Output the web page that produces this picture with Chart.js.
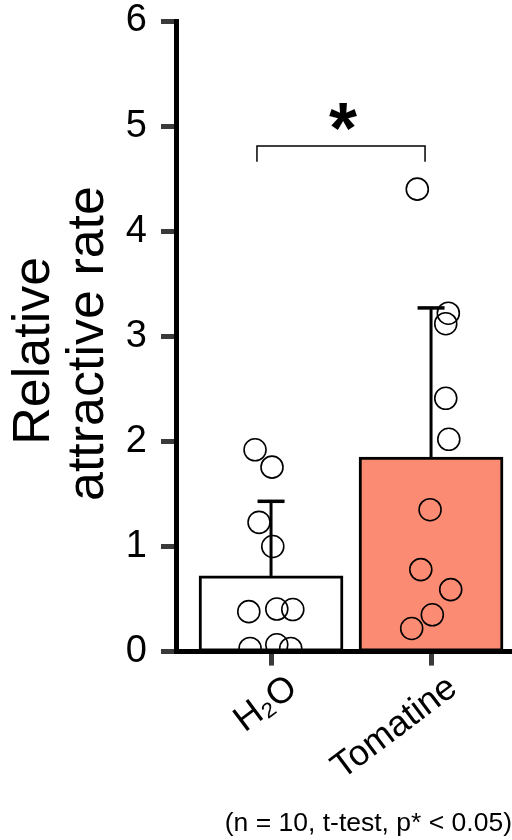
<!DOCTYPE html>
<html>
<head>
<meta charset="utf-8">
<script src="https://cdn.jsdelivr.net/npm/chart.js@4.4.1/dist/chart.umd.min.js"></script>
<style>
  html, body { margin: 0; padding: 0; background: #fff; }
  canvas { display: block; }
</style>
</head>
<body>
<canvas id="barchart" width="512" height="840"></canvas>
<script>
// groups on the x axis
var groups = ["H\u2082O", "Tomatine"];
var barMeans = [0.72, 1.85];
var barSD = [0.71, 1.42];
var barColors = ["#ffffff", "#fb8b72"];

// individual points (n = 10 each) and their horizontal jitter
var h2oValues = [1.92, 1.755, 1.23, 1.0, 0.38, 0.405, 0.40, 0.03, 0.065, 0.03];
var h2oJitter = [-0.10, 0.006, -0.075, 0.011, -0.139, 0.036, 0.136, -0.131, 0.036, 0.123];
var tomValues = [4.40, 3.22, 3.12, 2.41, 2.02, 1.35, 0.78, 0.59, 0.35, 0.22];
var tomJitter = [-0.086, 0.108, 0.092, 0.092, 0.111, -0.006, -0.064, 0.123, 0.008, -0.121];

var yTicks = [0, 1, 2, 3, 4, 5, 6];
var bracketX = [-0.088, 0.9625];
var bracketY = [4.66, 4.81];
var starPos = { x: 0.45, y: 4.93 };

var FONT = "'Liberation Sans', Arial, sans-serif";

function points(values, jitter, center){
	var result = [];
	for (var i = 0; i < values.length; i++){
		result.push({ x: center + jitter[i], y: values[i] });
	}
	return result;
}

var errorBars = {
	id: "errorBars",
	afterDatasetsDraw: function(chart){
		var ctx = chart.ctx;
		var xs = chart.scales.x, ys = chart.scales.y;
		ctx.save();
		ctx.strokeStyle = "#000";
		for (var i = 0; i < barMeans.length; i++){
			var px = xs.getPixelForValue(i);
			var y0 = ys.getPixelForValue(barMeans[i]);
			var y1 = ys.getPixelForValue(barMeans[i] + barSD[i]);
			ctx.lineWidth = 3;
			ctx.beginPath();
			ctx.moveTo(px, y0);
			ctx.lineTo(px, y1);
			ctx.stroke();
			ctx.lineWidth = 3.5;
			ctx.beginPath();
			ctx.moveTo(px - 13.5, y1);
			ctx.lineTo(px + 13.5, y1);
			ctx.stroke();
		}
		// significance star
		ctx.fillStyle = "#000";
		ctx.font = "bold 72px " + FONT;
		ctx.textAlign = "center";
		ctx.textBaseline = "middle";
		ctx.fillText("*", xs.getPixelForValue(starPos.x), ys.getPixelForValue(starPos.y));
		ctx.restore();
	}
};

var ctx = document.getElementById("barchart").getContext("2d");

var chart = new Chart(ctx, {
	type: "scatter",
	data: {
		datasets: [
			{
				type: "scatter",
				data: points(h2oValues, h2oJitter, 0),
				pointRadius: 11,
				pointBorderWidth: 1.6,
				pointBorderColor: "#000",
				pointBackgroundColor: "rgba(0,0,0,0)",
				order: 1
			},
			{
				type: "scatter",
				data: points(tomValues, tomJitter, 1),
				pointRadius: 11,
				pointBorderWidth: 1.6,
				pointBorderColor: "#000",
				pointBackgroundColor: "rgba(0,0,0,0)",
				order: 1
			},
			{
				type: "line",
				data: [
					{ x: bracketX[0], y: bracketY[0] },
					{ x: bracketX[0], y: bracketY[1] },
					{ x: bracketX[1], y: bracketY[1] },
					{ x: bracketX[1], y: bracketY[0] }
				],
				borderColor: "#000",
				borderWidth: 1.5,
				pointRadius: 0,
				tension: 0,
				fill: false,
				order: 2
			},
			{
				type: "bar",
				data: barMeans.map(function(v, i){ return { x: i, y: v }; }),
				backgroundColor: barColors,
				borderColor: "#000",
				borderWidth: 3,
				borderSkipped: false,
				barThickness: 144,
				order: 3
			}
		]
	},
	options: {
		responsive: false,
		animation: false,
		layout: { autoPadding: false, padding: { top: 21, left: 0, right: 0, bottom: 0 } },
		plugins: {
			legend: { display: false },
			tooltip: { enabled: false },
			title: {
				display: true,
				position: "bottom",
				align: "end",
				text: "(n = 10, t-test, p* < 0.05)",
				color: "#000",
				font: { family: FONT, size: 26.5, weight: "normal", lineHeight: 1.2 },
				padding: { top: 0, bottom: 0 }
			}
		},
		scales: {
			x: {
				type: "linear",
				min: -0.594,
				max: 1.506,
				offset: false,
				afterFit: function(s){
					s.height = 156.6;
					s.paddingLeft = 0;
					s.paddingRight = 0;
				},
				afterBuildTicks: function(s){
					s.ticks = groups.map(function(g, i){ return { value: i }; });
				},
				grid: {
					offset: false,
					drawOnChartArea: false,
					drawTicks: true,
					tickLength: 14,
					tickWidth: 5,
					tickColor: "#3a3a3a"
				},
				border: { display: true, color: "#000", width: 5 },
				ticks: {
					autoSkip: false,
					minRotation: 37,
					maxRotation: 37,
					padding: 4,
					labelOffset: 22,
					color: "#000",
					font: { family: FONT, size: 36, lineHeight: 1 },
					callback: function(value){ return groups[value]; }
				}
			},
			y: {
				min: 0,
				max: 6,
				afterFit: function(s){
					s.width = 176;
					s.paddingTop = 0;
					s.paddingBottom = 0;
				},
				afterBuildTicks: function(s){
					s.ticks = yTicks.map(function(v){ return { value: v }; });
				},
				grid: {
					drawOnChartArea: false,
					drawTicks: true,
					tickLength: 15,
					tickWidth: 5,
					tickColor: "#3a3a3a"
				},
				border: { display: true, color: "#000", width: 5 },
				ticks: {
					padding: 14,
					color: "#000",
					font: { family: FONT, size: 38, lineHeight: 1 }
				},
				title: {
					display: true,
					text: ["Relative  ", "attractive rate "],
					color: "#000",
					font: { family: FONT, size: 52, lineHeight: 1.04 },
					padding: { top: 8, bottom: 0 }
				}
			}
		}
	},
	plugins: [errorBars]
});
</script>
</body>
</html>
